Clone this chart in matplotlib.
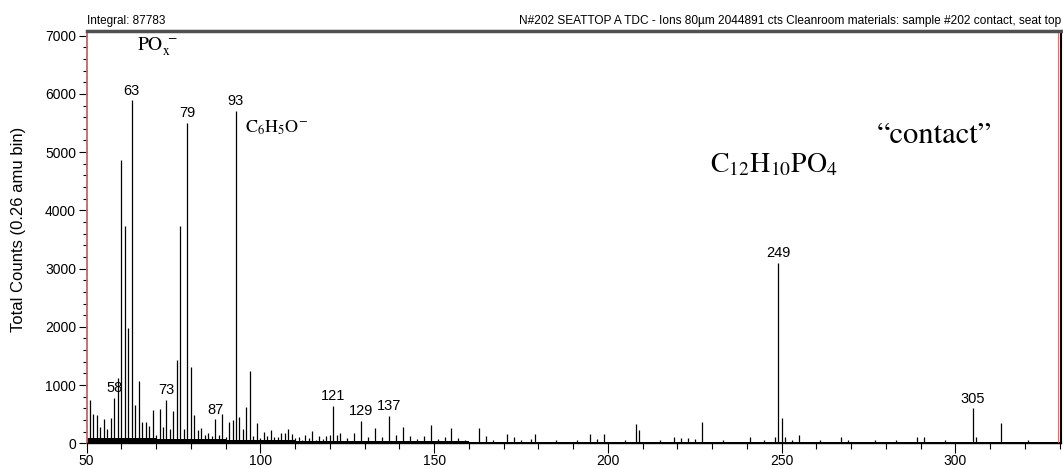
import matplotlib
matplotlib.use("Agg")
import matplotlib.pyplot as plt
from matplotlib.ticker import MultipleLocator

# ---------------- data ----------------
peak_mass = [51, 52, 53, 54, 55, 56, 57, 58, 59, 60, 61, 62, 63, 64, 65, 66, 67, 68, 69, 70,
             71, 72, 73, 74, 75, 76, 77, 78, 79, 80, 81, 82, 83, 84, 85, 86, 87, 88, 89, 90,
             91, 92, 93, 94, 95, 96, 97, 98, 99, 100, 101, 102, 103, 104, 105, 106, 107, 108,
             109, 110, 111, 112, 113, 114, 115, 116, 117, 118, 119, 120, 121, 122, 123, 125,
             127, 129, 131, 133, 135, 137, 139, 141, 143, 145, 147, 149, 151, 153, 155, 157,
             159, 163, 165, 167, 171, 173, 175, 178, 179, 185, 191, 195, 197, 199, 205, 208,
             209, 215, 219, 221, 223, 225, 227, 233, 241, 245, 248, 249, 250, 251, 253, 255,
             261, 267, 269, 277, 283, 289, 291, 297, 305, 306, 313, 321]
peak_counts = [750, 500, 490, 285, 410, 245, 430, 785, 1115, 4860, 3730, 1980, 5890, 660, 1075,
               360, 365, 297, 565, 150, 585, 285, 745, 245, 560, 1430, 3730, 240, 5500, 1316,
               486, 230, 268, 142, 170, 120, 410, 150, 500, 110, 365, 405, 5710, 447, 250, 625,
               1242, 130, 343, 90, 200, 120, 230, 110, 100, 180, 170, 240, 160, 90, 100, 60,
               140, 90, 210, 60, 130, 70, 130, 140, 640, 140, 180, 90, 170, 383, 100, 268,
               100, 470, 150, 285, 120, 80, 120, 315, 70, 110, 270, 90, 60, 268, 130, 60, 160,
               100, 60, 80, 160, 60, 60, 160, 70, 160, 60, 330, 230, 60, 100, 90, 90, 70, 372,
               60, 100, 60, 110, 3093, 430, 100, 60, 150, 60, 110, 60, 50, 60, 100, 110, 60,
               600, 100, 343, 50]
label_mass = [58, 63, 73, 79, 87, 93, 121, 129, 137, 249, 305]

base_edges = [50, 60, 70, 80, 90, 100, 110, 130, 160, 200, 260, 330]
base_levels = [95, 85, 75, 70, 60, 50, 40, 35, 30, 28, 28]

header_left = "Integral: 87783"
header_right = ("N#202 SEATTOP A TDC - Ions 80\u00b5m 2044891 cts Cleanroom materials: "
                "sample #202 contact, seat top")
y_label = "Total Counts (0.26 amu bin)"

# ---------------- figure ----------------
plt.rcParams['mathtext.fontset'] = 'stix'
sans = ['Liberation Sans', 'DejaVu Sans']

fig = plt.figure(figsize=(10.63, 4.68), dpi=100)
ax = fig.add_axes([0.0814, 0.0528, 0.9168, 0.881])

ax.set_xlim(50, 330.4)
ax.set_ylim(0, 7080)

# baseline noise band
ax.stairs(base_levels, base_edges, fill=True, color='black', lw=0)

# peaks
ax.vlines(peak_mass, 0, peak_counts, color='black', lw=0.9)

# peak labels
lookup = dict(zip(peak_mass, peak_counts))
for m in label_mass:
    ax.annotate(str(m), xy=(m, lookup[m]), xytext=(0, 2), textcoords='offset points',
                ha='center', va='bottom', fontsize=10.5, family=sans)

# chemical annotations
ax.text(64.5, 6800, r'$\mathrm{PO_x^{\ -}}$', fontsize=14, va='center', ha='left')
ax.text(95.5, 5420, r'$\mathrm{C_6H_5O^{-}}$', fontsize=13, va='center', ha='left')
ax.text(229.5, 4800, r'$\mathrm{C_{12}H_{10}PO_4}$', fontsize=20, va='center', ha='left')
ax.text(277.3, 5280, '\u201ccontact\u201d', fontsize=22, va='center', ha='left',
        family=['STIXGeneral', 'Liberation Serif', 'DejaVu Serif'])

# headers
ax.text(0.0, 1.01, header_left, transform=ax.transAxes, ha='left', va='bottom',
        fontsize=8.5, family=sans)
ax.text(1.0, 1.01, header_right, transform=ax.transAxes, ha='right', va='bottom',
        fontsize=8.6, family=sans)

# axes styling
ax.xaxis.set_major_locator(MultipleLocator(50))
ax.xaxis.set_minor_locator(MultipleLocator(10))
ax.yaxis.set_major_locator(MultipleLocator(1000))
ax.yaxis.set_minor_locator(MultipleLocator(200))
ax.tick_params(axis='both', which='major', direction='out', length=6, width=0.8,
               labelsize=10, pad=1.5)
ax.tick_params(axis='both', which='minor', direction='out', length=3, width=0.8)
ax.tick_params(axis='x', which='major', length=7, pad=0.5)
ax.tick_params(axis='x', which='minor', length=4)
for lab in ax.get_xticklabels() + ax.get_yticklabels():
    lab.set_family(sans)

ax.spines['top'].set_color('#505050')
ax.spines['top'].set_linewidth(2.5)
ax.spines['right'].set_color('black')
ax.spines['right'].set_linewidth(1.5)
ax.spines['bottom'].set_color('black')
ax.spines['bottom'].set_linewidth(1.0)
ax.spines['left'].set_color('#c86464')
ax.spines['left'].set_linewidth(1.3)
ax.axvline(329.4, color='#e07070', lw=0.8)

fig.text(0.017, 0.51, y_label, rotation=90, ha='center', va='center',
         fontsize=12, family=sans)

fig.savefig('out.png', dpi=100)
